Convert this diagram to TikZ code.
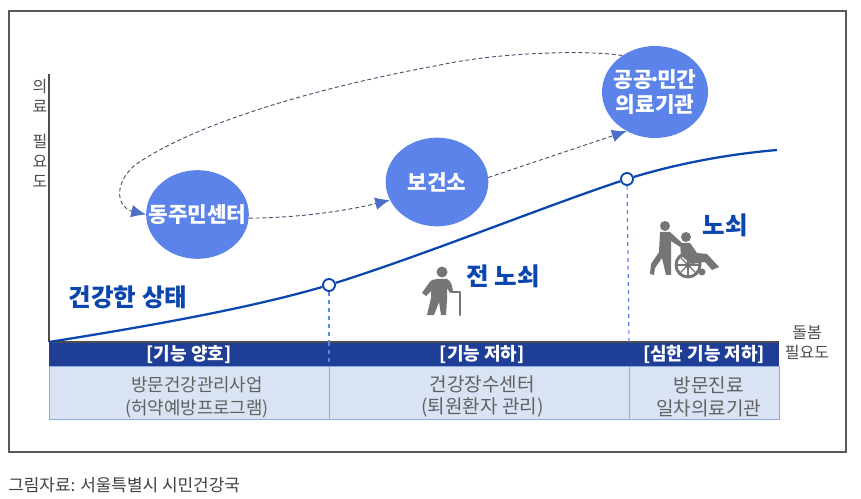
\documentclass[tikz,border=0pt]{standalone}
\usepackage{fontspec}
\usepackage{xcolor}
\setmainfont{Noto Sans CJK KR}
\usetikzlibrary{shapes.geometric, arrows.meta, positioning}
\definecolor{bubbleblue}{HTML}{5B83EA}
\definecolor{barblue}{HTML}{1F3F97}
\definecolor{curveblue}{HTML}{0A46AE}
\definecolor{cellblue}{HTML}{DAE3F3}
\definecolor{celledge}{HTML}{8FAADC}
\definecolor{icongray}{HTML}{757575}
\definecolor{loopgray}{HTML}{44546A}
\newcommand{\celltext}[3]{\rule{0pt}{18pt}\hspace*{#1}#2\\\hspace*{#1}#3}

\begin{document}
\begin{tikzpicture}[
    x=0.75pt, y=-0.75pt,
    bubble/.style={ellipse, fill=bubbleblue, text=white, inner xsep=-16pt, inner ysep=-2pt, align=center, font=\fontsize{16}{18.75}\selectfont\bfseries},
    header/.style={rectangle, fill=barblue, text=white, inner sep=0pt, outer sep=0pt, font=\fontsize{13.5}{15}\selectfont\bfseries},
    cell/.style={rectangle, draw=celledge, fill=cellblue, text=black!62, inner sep=0pt, outer sep=0pt, align=center, font=\fontsize{14.3}{17}\selectfont},
    stage/.style={text=curveblue, inner sep=0pt, font=\fontsize{18.4}{20}\selectfont\bfseries},
    axislabel/.style={text=black!70, inner sep=0pt, align=center, font=\fontsize{12}{15}\selectfont},
    marker/.style={circle, draw=curveblue, fill=white, line width=1.4pt, minimum size=9pt, inner sep=0pt},
    arrow/.style={densely dashed, draw=loopgray, line width=0.7pt, -{Latex[length=11pt,width=9.5pt,bubbleblue!85!black]}},
    drop/.style={dashed, draw=bubbleblue, line width=0.9pt},
    icon/.style={fill=icongray, draw=none}
]
    % Canvas and frame
    \useasboundingbox (0,0) rectangle (861,499);
    \draw [draw=black!65, line width=0.8pt] (9,11) rectangle (846,452);

    % Table under the curve
    \node [header, minimum width=210pt, minimum height=18pt, anchor=north west] (good) at (49,342) {[기능 양호]};
    \node [header, minimum width=225pt, minimum height=18pt, right=0pt of good] (low) {\hspace*{5pt}[기능 저하]};
    \node [header, minimum width=112.5pt, minimum height=18pt, right=0pt of low] (bad) {[심한 기능 저하]};
    \node [cell, minimum width=210pt, minimum height=39.75pt, below=0pt of good, font=\fontsize{13.4}{17}\selectfont] (visit) {\celltext{12pt}{방문건강관리사업}{(허약예방프로그램)}};
    \node [cell, minimum width=225pt, minimum height=39.75pt, below=0pt of low] (center) {\celltext{5pt}{건강장수센터}{(퇴원환자 관리)}};
    \node [cell, minimum width=112.5pt, minimum height=39.75pt, below=0pt of bad] (clinic) {\celltext{7pt}{방문진료}{일차의료기관}};

    % Axes
    \coordinate (origin) at (49,342);
    \coordinate (ytop) at (49,74);
    \coordinate (xend) at (779,342);
    \draw [draw=black!70, line width=1.5pt] (ytop) -- (origin);
    \draw [draw=black!70, line width=0.8pt] (origin) -- (xend);
    \node [axislabel] (ylabela) at (40,96) {의\\료};
    \node [axislabel] (ylabelb) at (40,161) {필\\요\\도};
    \node [axislabel] (xlabel) at (807,343) {돌봄\\필요도};

    % Curve and drop lines
    \node [marker] (early) at (329,285) {};
    \node [marker] (late) at (627,179) {};
    \coordinate (curveend) at (777,150);
    \coordinate (earlyfoot) at (329,342);
    \coordinate (latefoot) at (629,342);
    \draw [draw=curveblue, line width=1.7pt] (origin) .. controls (150,326) and (250,308) .. (early);
    \draw [draw=curveblue, line width=1.7pt] (early) .. controls (430,253) and (540,208) .. (late);
    \draw [draw=curveblue, line width=1.7pt] (late) .. controls (680,163) and (730,154) .. (curveend);
    \draw [drop] (early) -- (earlyfoot);
    \draw [drop] (late) -- (latefoot);
    \draw [drop] (earlyfoot) -- (visit.north east);

    % Service bubbles
    \node [bubble, minimum width=77pt, minimum height=66.5pt] (dong) at (197.5,214.5) {동주민센터};
    \node [bubble, minimum width=77pt, minimum height=66.5pt] (health) at (437,182) {보건소};
    \node [bubble, minimum width=79.5pt, minimum height=69pt] (public) at (655,92) {공공\hspace{-0.2em}·\hspace{-0.2em}민간\\의료기관};

    % Connections
    \draw [arrow] (dong.-4) .. controls (300,218) and (350,210) .. (health.201);
    \draw [arrow] (health.5) -- (public.234);
    \draw [arrow] (public.132) .. controls (590,50) and (500,52) .. (440,65)
        .. controls (330,85) and (200,120) .. (135,165)
        .. controls (112,185) and (118,208) .. (dong.west);

    % Stage labels
    \node [stage] (healthy) at (128,297) {건강한 상태};
    \node [stage] (preold) at (503,276) {전 노쇠};
    \node [stage] (frail) at (725,225) {노쇠};

    % Walker icon
    \fill [icon] (442,272) circle (5.5);
    \fill [icon] (437,279) -- (447,279) .. controls (451,281) and (452,285) .. (453,291)
        -- (450,293) -- (447,288) -- (447,300) -- (446,315) -- (441,315) -- (439,302) -- (434,315)
        -- (427,315) -- (431,298) -- (431,291) -- (426,296) -- (422,293) -- (429,283) .. controls (431,280) and (434,279) .. (437,279) -- cycle;
    \draw [draw=icongray, line width=1.8pt, line cap=round, line join=round] (452,292) -- (460,292) -- (460,315);

    % Wheelchair icon
    \fill [icon] (665,226) circle (5);
    \fill [icon] (660,232) -- (670,232) -- (682,243) -- (680,247) -- (671,241) -- (671,258) -- (671,275) -- (666,275)
        -- (662,258) -- (655,268) -- (654,275) -- (650,274) -- (651,264) -- (659,252) -- cycle;
    \fill [icon] (686,237) circle (5);
    \fill [icon] (680,243) -- (690,243) -- (697,253) -- (707,254) -- (719,267) -- (712,270) -- (705,262) -- (692,264) -- (681,256) -- cycle;
    \draw [draw=icongray, line width=2.2pt] (688,265) circle (12);
    \fill [icon] (688,265) circle (3);
    \foreach \a in {0,45,...,315}
        \draw [draw=icongray, line width=1pt] (688,265) -- ++(\a:12);
    \fill [icon] (702,272) circle (3.5);

    % Source line
    \node [anchor=west, inner sep=0pt, text=black!75, font=\fontsize{12.7}{15}\selectfont] (source) at (8,485) {그림자료: 서울특별시 시민건강국};
\end{tikzpicture}
\end{document}
